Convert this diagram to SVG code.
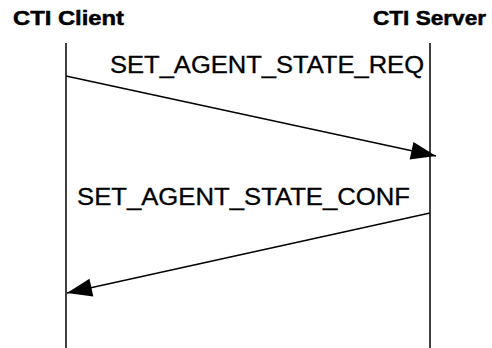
<svg xmlns="http://www.w3.org/2000/svg" width="492" height="348" viewBox="0 0 492 348">
<defs>
<style>
.head{font-family:"Liberation Sans",Arial,sans-serif;font-weight:bold;font-size:21px;fill:#000;stroke:#000;stroke-width:0.5}
.lbl{font-family:"Liberation Sans",Arial,sans-serif;font-size:23px;fill:#000;stroke:#000;stroke-width:0.3}
.life{stroke:#000;stroke-width:1.5;fill:none}
.msg{stroke:#000;stroke-width:1.4;fill:none}
</style>
<marker id="ah" markerUnits="userSpaceOnUse" markerWidth="30" markerHeight="22" viewBox="-27 -11 29 22" refX="0" refY="0" orient="auto">
<path d="M0,0 L-25,-9 L-25,9 Z" fill="#000"/>
</marker>
</defs>
<rect width="492" height="348" fill="#fff"/>
<g id="client">
<text class="head" x="13" y="25" textLength="111" lengthAdjust="spacingAndGlyphs">CTI Client</text>
<line class="life" x1="66" y1="43" x2="66" y2="348"/>
</g>
<g id="server">
<text class="head" x="373" y="25" textLength="113" lengthAdjust="spacingAndGlyphs">CTI Server</text>
<line class="life" x1="430" y1="43" x2="430" y2="348"/>
</g>
<g id="connectors">
<line class="msg" x1="66" y1="76" x2="436" y2="156" marker-end="url(#ah)"/>
<text class="lbl" x="110" y="73" textLength="314" lengthAdjust="spacingAndGlyphs">SET_AGENT_STATE_REQ</text>
<line class="msg" x1="430" y1="213" x2="67" y2="293" marker-end="url(#ah)"/>
<text class="lbl" x="77" y="205" textLength="333" lengthAdjust="spacingAndGlyphs">SET_AGENT_STATE_CONF</text>
</g>
</svg>
